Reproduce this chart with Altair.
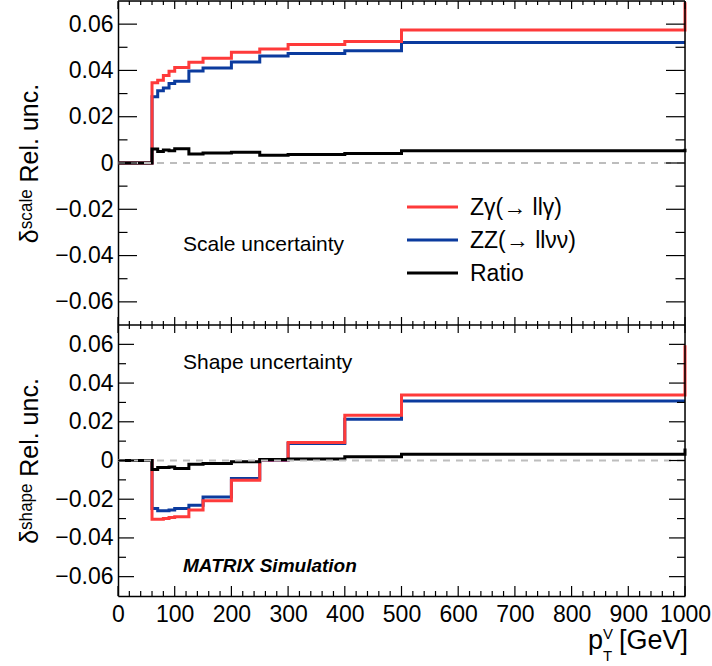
import altair as alt
import pandas as pd

# ---------------- data ----------------
bin_edges = [60, 70, 80, 90, 100, 125, 150, 200, 250, 300, 400, 500]
x_end = 1000

scale_zg = [0.0347, 0.0358, 0.0378, 0.0396, 0.0413, 0.0435, 0.0453, 0.0479, 0.0493, 0.0512, 0.0525, 0.0575]
scale_zz = [0.0286, 0.0312, 0.0324, 0.0344, 0.0353, 0.0398, 0.0411, 0.0436, 0.0462, 0.0473, 0.0485, 0.0521]
scale_ratio = [0.0060, 0.0050, 0.0056, 0.0053, 0.0062, 0.0039, 0.0043, 0.0046, 0.0033, 0.0037, 0.0041, 0.0053]
scale_end = {"zg": 0.0695, "zz": 0.0521, "ratio": 0.0062}

shape_zg = [-0.0303, -0.0303, -0.0299, -0.0294, -0.0291, -0.0256, -0.0208, -0.0102, 0.0003, 0.0093, 0.0234, 0.0339]
shape_zz = [-0.0248, -0.0260, -0.0260, -0.0256, -0.0248, -0.0231, -0.0188, -0.0093, 0.0000, 0.0088, 0.0213, 0.0307]
shape_ratio = [-0.0046, -0.0036, -0.0036, -0.0033, -0.0041, -0.0019, -0.0015, -0.0007, 0.0005, 0.0008, 0.0019, 0.0032]
shape_end = {"zg": 0.0595, "zz": 0.0307, "ratio": 0.0062}

series_names = {"zg": "Zγ(→ llγ)", "zz": "ZZ(→ llνν)", "ratio": "Ratio"}
series_colors = {"zg": "#fe3a3a", "zz": "#0b3b9e", "ratio": "#000000"}

x_major = [0, 100, 200, 300, 400, 500, 600, 700, 800, 900, 1000]
x_minor = [20, 40, 60, 80, 120, 140, 160, 180, 220, 240, 260, 280, 320, 340, 360, 380,
           420, 440, 460, 480, 520, 540, 560, 580, 620, 640, 660, 680, 720, 740, 760, 780,
           820, 840, 860, 880, 920, 940, 960, 980]
y_major = [-0.06, -0.04, -0.02, 0, 0.02, 0.04, 0.06]
y_minor = [-0.05, -0.03, -0.01, 0.01, 0.03, 0.05]

# ---------------- layout ----------------
W = 567
H = 595
SPLIT = 324
FONT = "Liberation Sans"


def step_df(vals, end):
    xs = [0] + bin_edges + [x_end, x_end]
    ys = [0.0] + vals + [vals[-1], end]
    return pd.DataFrame({"x": xs, "v": ys, "i": list(range(len(xs)))})


X = alt.X(
    "x:Q",
    scale=alt.Scale(domain=[0, 1000], nice=False, zero=False),
    axis=alt.Axis(
        values=x_major, format="d", tickSize=0, labelPadding=7, labelFontSize=23,
        labelFont=FONT, labelColor="black", labelFlush=False, labelOverlap=False,
        domainColor="black", domainWidth=1.5, grid=False, title=None,
    ),
)


def make_y(rng, title):
    return alt.Y(
        "v:Q",
        scale=alt.Scale(domain=[-0.07, 0.07], range=rng, nice=False, zero=False),
        axis=alt.Axis(
            orient="left", values=y_major, tickSize=0, labelPadding=5, labelFontSize=23,
            labelFont=FONT, labelColor="black", grid=False,
            labelExpr="datum.value == 0 ? '0' : replace(format(datum.value, '.2f'), '-', '\u2212')",
            domainColor="black", domainWidth=1.5, title=title, titleFont=FONT,
            titleFontSize=25, titleFontWeight="normal", titleColor="black",
            minExtent=66, maxExtent=66, titlePadding=10,
        ),
    )


def panel(vals, ends, rng, title, top_px, bot_px, ytick_major_len, xt_in_top, xt_in_bot):
    Y = make_y(rng, title)
    layers = []
    zero = alt.Chart(pd.DataFrame({"v": [0.0]})).mark_rule(
        color="#bdbdbd", strokeWidth=2, strokeDash=[7, 6]
    ).encode(y=Y, x=alt.value(0), x2=alt.value(W))
    for key in ["zz", "zg", "ratio"]:
        df = step_df(vals[key], ends[key])
        layers.append(
            alt.Chart(df).mark_line(
                interpolate="step-after", strokeWidth=3, color=series_colors[key],
                strokeJoin="miter", strokeCap="butt",
            ).encode(x=X, y=Y, order="i:Q")
        )
    layers.append(zero)
    for vals_t, ln in [(y_major, ytick_major_len), (y_minor, ytick_major_len / 2)]:
        tdf = pd.DataFrame({"v": vals_t})
        layers.append(alt.Chart(tdf).mark_rule(color="black", strokeWidth=1.2).encode(
            y=Y, x=alt.value(0), x2=alt.value(ln)))
        layers.append(alt.Chart(tdf).mark_rule(color="black", strokeWidth=1.2).encode(
            y=Y, x=alt.value(W), x2=alt.value(W - ln)))
    for vals_t, frac in [(x_major, 1.0), (x_minor, 0.5)]:
        tdf = pd.DataFrame({"x": vals_t})
        layers.append(alt.Chart(tdf).mark_rule(color="black", strokeWidth=1.2).encode(
            x=X, y=alt.value(top_px), y2=alt.value(top_px + xt_in_top * frac)))
        layers.append(alt.Chart(tdf).mark_rule(color="black", strokeWidth=1.2).encode(
            x=X, y=alt.value(bot_px), y2=alt.value(bot_px - xt_in_bot * frac)))
    return alt.layer(*layers)


top = panel(
    {"zg": scale_zg, "zz": scale_zz, "ratio": scale_ratio}, scale_end,
    [SPLIT, 0], "δˢᶜᵃˡᵉ Rel. unc.", 0, SPLIT, 19, 8, 8,
)
bottom = panel(
    {"zg": shape_zg, "zz": shape_zz, "ratio": shape_ratio}, shape_end,
    [H, SPLIT], "δˢʰᵃᵖᵉ Rel. unc.", SPLIT, H, 16, 8, 10,
)

frame = alt.layer(
    alt.Chart().mark_rule(color="black", strokeWidth=1.5).encode(
        x=alt.value(0), x2=alt.value(W), y=alt.value(0)),
    alt.Chart().mark_rule(color="black", strokeWidth=1.5).encode(
        x=alt.value(0), x2=alt.value(W), y=alt.value(SPLIT)),
    alt.Chart().mark_rule(color="black", strokeWidth=1.5).encode(
        x=alt.value(W), y=alt.value(0), y2=alt.value(H)),
)

leg_keys = ["zg", "zz", "ratio"]
leg_y = [206, 239, 272]
legend_layers = []
for k, yy in zip(leg_keys, leg_y):
    legend_layers.append(alt.Chart().mark_rule(color=series_colors[k], strokeWidth=3).encode(
        x=alt.value(289), x2=alt.value(340), y=alt.value(yy)))
    legend_layers.append(alt.Chart().mark_text(
        text=series_names[k], align="left", baseline="middle", fontSize=23, font=FONT, color="black"
    ).encode(x=alt.value(352), y=alt.value(yy + 1)))

annotations = [
    alt.Chart().mark_text(text="Scale uncertainty", align="left", baseline="middle",
                          fontSize=21, font=FONT, color="black").encode(x=alt.value(65), y=alt.value(244)),
    alt.Chart().mark_text(text="Shape uncertainty", align="left", baseline="middle",
                          fontSize=21, font=FONT, color="black").encode(x=alt.value(65), y=alt.value(362)),
    alt.Chart().mark_text(text="MATRIX Simulation", align="left", baseline="alphabetic",
                          fontSize=19, font=FONT, fontWeight="bold", fontStyle="italic",
                          color="black").encode(x=alt.value(65), y=alt.value(571)),
    alt.Chart().mark_text(text="p", align="left", baseline="alphabetic", fontSize=27,
                          font=FONT, color="black").encode(x=alt.value(470), y=alt.value(648)),
    alt.Chart().mark_text(text="V", align="left", baseline="alphabetic", fontSize=15,
                          font=FONT, color="black").encode(x=alt.value(485), y=alt.value(638)),
    alt.Chart().mark_text(text="T", align="left", baseline="alphabetic", fontSize=15,
                          font=FONT, color="black").encode(x=alt.value(485), y=alt.value(660)),
    alt.Chart().mark_text(text="[GeV]", align="left", baseline="alphabetic", fontSize=27,
                          font=FONT, color="black").encode(x=alt.value(501), y=alt.value(648)),
]

chart = alt.layer(top, bottom, frame, *legend_layers, *annotations).resolve_scale(
    y="independent"
).properties(
    width=W, height=H,
    padding={"left": 118, "top": 1, "right": 27, "bottom": 70},
    autosize=alt.AutoSizeParams(type="none"),
).configure_view(stroke=None).configure(background="white")

chart.save("out.html", embed_options={"renderer": "svg", "actions": False})
